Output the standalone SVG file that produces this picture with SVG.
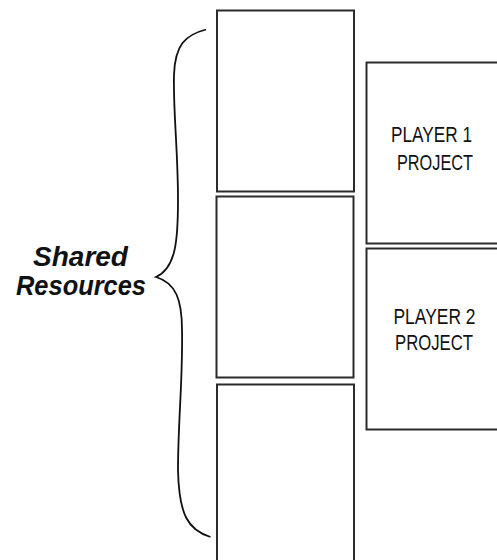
<svg xmlns="http://www.w3.org/2000/svg" width="497" height="560" viewBox="0 0 497 560">
<style>
.box{fill:#fff;stroke:#2b2b2b;stroke-width:2}
.lbl{font-family:"Liberation Sans",Arial,sans-serif;font-size:22px;fill:#111;text-anchor:middle}
.title{font-family:"Liberation Sans",Arial,sans-serif;font-size:28px;font-weight:bold;font-style:italic;fill:#111}
.brace{fill:none;stroke:#111;stroke-width:1.8}
</style>
<rect width="497" height="560" fill="#fff"/>
<g id="res1"><rect class="box" x="217" y="10.5" width="137" height="181"/></g>
<g id="res2"><rect class="box" x="216.5" y="196.5" width="137" height="181"/></g>
<g id="res3"><path class="box" d="M217,560 V384.5 H354 V560"/></g>
<g id="player1">
<path class="box" d="M497,62.5 H366.5 V243.5 H497"/>
<text class="lbl" x="431.5" y="142" textLength="81" lengthAdjust="spacingAndGlyphs">PLAYER 1</text>
<text class="lbl" x="435" y="169.5" textLength="76" lengthAdjust="spacingAndGlyphs">PROJECT</text>
</g>
<g id="player2">
<path class="box" d="M497,248.5 H366.5 V429.5 H497"/>
<text class="lbl" x="434.5" y="323.5" textLength="82" lengthAdjust="spacingAndGlyphs">PLAYER 2</text>
<text class="lbl" x="434" y="350" textLength="78" lengthAdjust="spacingAndGlyphs">PROJECT</text>
</g>
<g id="shared">
<path class="brace" d="M206,29.5 C185,35 175,45 174,75 C173,110 178,150 178,200 C178,240 176,268 156,277 C176,283 182,300 182,330 C183,380 178,420 178,470 C179,515 188,530 210.5,537"/>
<text class="title" x="33" y="266" textLength="95" lengthAdjust="spacingAndGlyphs">Shared</text>
<text class="title" x="16" y="295" textLength="130" lengthAdjust="spacingAndGlyphs">Resources</text>
</g>
</svg>
